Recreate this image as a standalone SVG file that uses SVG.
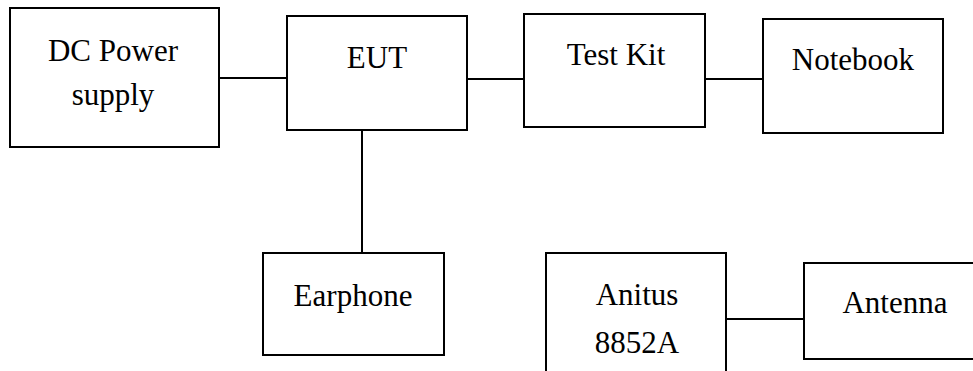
<svg xmlns="http://www.w3.org/2000/svg" width="973" height="371" viewBox="0 0 973 371">
<style>
rect{fill:#fff;stroke:#000;stroke-width:2}
line{stroke:#000;stroke-width:2}
text{font-family:"Liberation Serif","Times New Roman",serif;font-size:31px;fill:#000;text-anchor:middle}
</style>
<rect x="0" y="0" width="973" height="371" style="stroke:none"/>
<g id="connectors">
<line x1="219" y1="78" x2="287" y2="78"/>
<line x1="467" y1="79" x2="524" y2="79"/>
<line x1="705" y1="79" x2="763" y2="79"/>
<line x1="362" y1="130" x2="362" y2="253"/>
<line x1="726" y1="319" x2="804" y2="319"/>
</g>
<g id="dc"><rect x="10" y="8" width="209" height="139"/><text x="113" y="61">DC Power</text><text x="113" y="105">supply</text></g>
<g id="eut"><rect x="287" y="16" width="180" height="114"/><text x="377" y="68">EUT</text></g>
<g id="testkit"><rect x="524" y="14" width="181" height="113"/><text x="616" y="65">Test Kit</text></g>
<g id="notebook"><rect x="763" y="19" width="180" height="114"/><text x="853" y="70">Notebook</text></g>
<g id="earphone"><rect x="263" y="253" width="181" height="102"/><text x="353" y="306">Earphone</text></g>
<g id="anitus"><rect x="546" y="253" width="180" height="130"/><text x="637" y="305">Anitus</text><text x="637" y="353">8852A</text></g>
<g id="antenna"><rect x="804" y="263" width="190" height="96"/><text x="895" y="313">Antenna</text></g>
</svg>
